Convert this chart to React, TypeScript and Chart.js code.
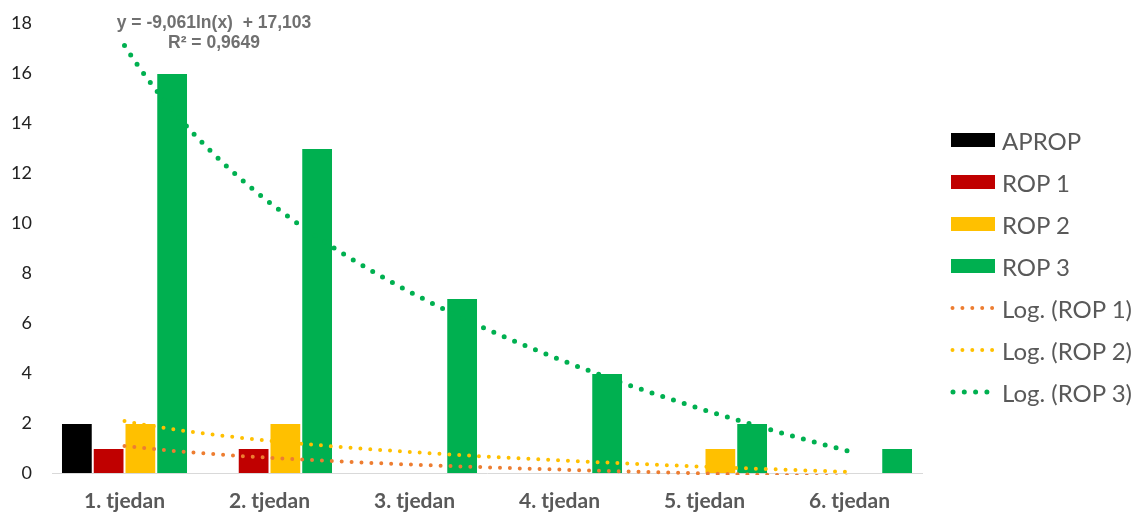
import React, { useEffect, useRef } from 'react';
import { Chart, registerables } from 'chart.js';

Chart.register(...registerables);

const categories = ['1. tjedan', '2. tjedan', '3. tjedan', '4. tjedan', '5. tjedan', '6. tjedan'];
const aprop = [2, 0, 0, 0, 0, 0];
const rop1 = [1, 1, 0, 0, 0, 0];
const rop2 = [2, 2, 0, 0, 1, 0];
const rop3 = [16, 13, 7, 4, 2, 1];
const yMin = 0;
const yMax = 18;
const yStep = 2;
const equationLines = ['y = -9,061ln(x)  + 17,103', 'R² = 0,9649'];

const barSeries = [
  { label: 'APROP', data: aprop, color: '#000000' },
  { label: 'ROP 1', data: rop1, color: '#C00000' },
  { label: 'ROP 2', data: rop2, color: '#FFC000' },
  { label: 'ROP 3', data: rop3, color: '#00B050' },
];

const trendSeries = [
  { label: 'Log. (ROP 1)', data: rop1, color: '#ED7D31', width: 4, gap: 9.9 },
  { label: 'Log. (ROP 2)', data: rop2, color: '#FFC000', width: 4, gap: 9.9 },
  { label: 'Log. (ROP 3)', data: rop3, color: '#00B050', width: 5, gap: 11.3 },
];

// Logarithmic least-squares trendline (as the spreadsheet computes it): y = a*ln(x) + b
function logFit(values: number[]) {
  const n = values.length;
  const xs = values.map((_, i) => Math.log(i + 1));
  const mx = xs.reduce((s, v) => s + v, 0) / n;
  const my = values.reduce((s, v) => s + v, 0) / n;
  let sxy = 0;
  let sxx = 0;
  for (let i = 0; i < n; i++) {
    sxy += (xs[i] - mx) * (values[i] - my);
    sxx += (xs[i] - mx) * (xs[i] - mx);
  }
  const a = sxy / sxx;
  return { a, b: my - a * mx };
}

// Trendlines drawn on top of the bars through the chart's own x (category) and y scales
const trendlinePlugin = {
  id: 'logTrendlines',
  afterDatasetsDraw(chart: any) {
    const { ctx, chartArea } = chart;
    const xs = chart.scales.x;
    const ys = chart.scales.y;
    ctx.save();
    ctx.beginPath();
    ctx.rect(chartArea.left, chartArea.top - 6, chartArea.right - chartArea.left, chartArea.bottom - chartArea.top + 8);
    ctx.clip();
    trendSeries.forEach((t) => {
      const { a, b } = logFit(t.data);
      const n = t.data.length;
      ctx.beginPath();
      const steps = 300;
      for (let k = 0; k <= steps; k++) {
        const x = 1 + ((n - 1) * k) / steps;
        const y = a * Math.log(x) + b;
        const px = xs.getPixelForValue(x - 1);
        const py = ys.getPixelForValue(y);
        if (k === 0) ctx.moveTo(px, py);
        else ctx.lineTo(px, py);
      }
      ctx.strokeStyle = t.color;
      ctx.lineWidth = t.width;
      ctx.lineCap = 'round';
      ctx.lineJoin = 'round';
      ctx.setLineDash([0, t.gap]);
      ctx.stroke();
    });
    ctx.restore();
  },
};

function DottedSwatch({ color, width, gap }: { color: string; width: number; gap: number }) {
  return (
    <svg width={48} height={14} style={{ display: 'block' }}>
      <line
        x1={width / 2 + 0.5}
        y1={7}
        x2={44}
        y2={7}
        stroke={color}
        strokeWidth={width}
        strokeLinecap="round"
        strokeDasharray={`0 ${gap}`}
      />
    </svg>
  );
}

export default function App() {
  const canvasRef = useRef<HTMLCanvasElement | null>(null);

  useEffect(() => {
    if (!canvasRef.current) return;
    const datasets = barSeries.map((s) => ({
      type: 'bar',
      label: s.label,
      data: s.data,
      backgroundColor: s.color,
      borderColor: '#FFFFFF',
      borderWidth: 1,
      barPercentage: 1,
      categoryPercentage: 0.876,
    }));

    const chart = new Chart(canvasRef.current, {
      type: 'bar',
      data: { labels: categories, datasets },
      plugins: [trendlinePlugin],
      options: {
        responsive: false,
        animation: false,
        layout: { padding: { top: 23, right: 222, left: 0, bottom: 0 } },
        plugins: { legend: { display: false }, tooltip: { enabled: false } },
        scales: {
          x: {
            type: 'category',
            offset: true,
            grid: { display: false, drawTicks: false },
            border: { display: true, color: '#D9D9D9', width: 1 },
            ticks: {
              font: { family: 'Lato', size: 21, weight: 'bold' },
              color: '#595959',
              padding: 16,
              maxRotation: 0,
            },
            afterFit: (s: any) => {
              s.height = 48;
            },
          },
          y: {
            min: yMin,
            max: yMax,
            ticks: {
              stepSize: yStep,
              font: { family: 'Lato', size: 18 },
              color: '#222222',
              padding: 20,
            },
            grid: { display: false, drawTicks: false },
            border: { display: false },
            afterFit: (s: any) => {
              s.width = 52;
              s.paddingTop = 0;
              s.paddingBottom = 0;
            },
          },
        },
      } as any,
    } as any);
    return () => chart.destroy();
  }, []);

  const legendItems = [
    ...barSeries.map((s) => ({ label: s.label, swatch: <div style={{ width: 44, height: 14, background: s.color, marginLeft: 1, marginRight: 3 }} /> })),
    ...trendSeries.map((t) => ({ label: t.label, swatch: <DottedSwatch color={t.color} width={t.width} gap={t.gap} /> })),
  ];

  return (
    <div style={{ position: 'absolute', left: 0, top: 0, width: 1144, height: 521, background: '#FFFFFF' }}>
      <canvas ref={canvasRef} width={1144} height={521} style={{ display: 'block' }} />
      <div
        style={{
          position: 'absolute',
          left: 94,
          top: 12,
          width: 240,
          textAlign: 'center',
          fontFamily: '"Liberation Sans", Arial, sans-serif',
          fontWeight: 'bold',
          fontSize: 17.5,
          lineHeight: '20px',
          color: '#707070',
          whiteSpace: 'pre',
        }}
      >
        {equationLines.map((l) => (
          <div key={l}>{l}</div>
        ))}
      </div>
      <div style={{ position: 'absolute', left: 950, top: 119 }}>
        {legendItems.map((it) => (
          <div key={it.label} style={{ display: 'flex', alignItems: 'center', height: 42 }}>
            {it.swatch}
            <span style={{ fontFamily: 'Lato, sans-serif', fontSize: 24, color: '#595959', marginLeft: 4, whiteSpace: 'nowrap' }}>
              {it.label}
            </span>
          </div>
        ))}
      </div>
    </div>
  );
}
